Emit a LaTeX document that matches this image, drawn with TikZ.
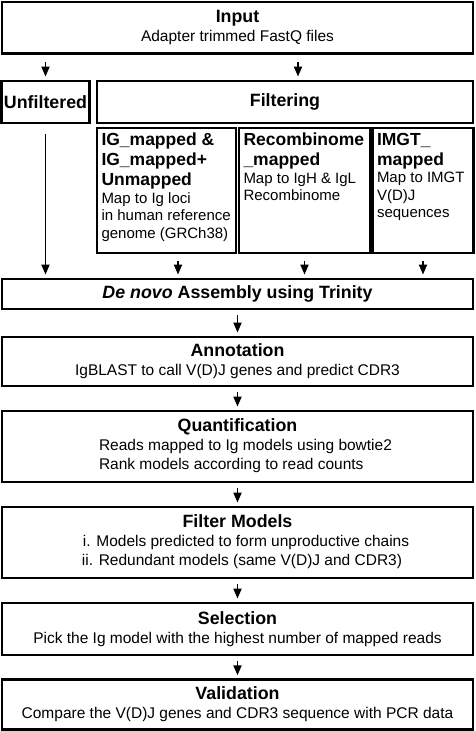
\documentclass[tikz,border=0pt]{standalone}
\usepackage{fontspec}
\setmainfont{Liberation Sans}
\usetikzlibrary{arrows.meta,positioning,calc}

\newcommand{\head}[1]{{\fontsize{17.8}{20}\selectfont\bfseries #1}}
\newcommand{\subhead}[1]{{\fontsize{17.5}{20}\selectfont\bfseries #1\par}}
\newcommand{\topfill}[2]{\parbox[c][115pt][t]{#1}{\raggedright #2}}

\begin{document}
\begin{tikzpicture}[x=1pt, y=-1pt,
    box/.style={rectangle, draw, line width=2.8pt, align=center, inner sep=1pt, minimum width=471pt, font=\fontsize{15.5}{19}\selectfont},
    step box/.style={rectangle, draw, line width=2.8pt, align=center, inner sep=0pt, minimum height=42pt, font=\fontsize{15}{19}\selectfont},
    subbox/.style={rectangle, draw, line width=2.8pt, inner xsep=4.5pt, inner ysep=5pt, minimum height=125pt, font=\fontsize{15}{17.5}\selectfont},
    arrow/.style={-{Triangle[length=10pt,width=8pt]}, line width=1.7pt, shorten >=3pt}
]
\useasboundingbox (0,0) rectangle (475,731);

% Input data
\node[box, minimum height=51.5pt] (input) at (237.5,27.8) {\head{Input}\\Adapter trimmed FastQ files};

% Two branches
\node[step box, minimum width=88pt] (unfilt) at (45.5,102) {\head{Unfiltered}};
\node[step box, minimum width=376pt] (filtering) at (285,102) {\head{Filtering}};

% Three filtering modes
\node[subbox, minimum width=139pt] (igmap) at (166.5,190.5) {\topfill{130pt}{%
    \subhead{IG\_mapped \&\\IG\_mapped+\\Unmapped}
    Map to Ig loci\\in human reference\\genome (GRCh38)}};
\node[subbox, minimum width=131pt] (recomb) at (304.5,190.5) {\topfill{122pt}{%
    \subhead{Recombinome\\\_mapped}
    Map to IgH \& IgL\\Recombinome}};
\node[subbox, minimum width=100pt] (imgt) at (423,190.5) {\topfill{92pt}{%
    \subhead{IMGT\_\\mapped}
    Map to IMGT\\V(D)J\\sequences}};

% Assembly and downstream steps
\node[box, minimum height=30pt] (denovo) at (237.5,294) {\head{\textit{De novo} Assembly using Trinity}};
\node[box, minimum height=49pt] (annot) at (237.5,361.5) {\head{Annotation}\\IgBLAST to call V(D)J genes and predict CDR3};
\node[box, minimum height=71pt] (quant) at (237.5,446.5) {\head{Quantification}\\
    \hspace*{16pt}\begin{tabular}[t]{@{}l@{}}Reads mapped to Ig models using bowtie2\\Rank models according to read counts\end{tabular}};
\node[box, minimum height=71pt] (filtmod) at (237.5,542.5) {\head{Filter Models}\\
    \hspace*{16pt}\begin{tabular}[t]{@{}l@{}}\hspace*{1pt}i. Models predicted to form unproductive chains\\ii. Redundant models (same V(D)J and CDR3)\end{tabular}};
\node[box, minimum height=52pt] (select) at (237.5,629) {\head{Selection}\\Pick the Ig model with the highest number of mapped reads};
\node[box, minimum height=49.5pt] (valid) at (237.5,704.5) {\head{Validation}\\Compare the V(D)J genes and CDR3 sequence with PCR data};

% Arrows from input to branches
\coordinate (fdrop) at ([xshift=13pt]filtering.north);
\draw[arrow, shorten <=7pt] (input.south -| unfilt) -- (unfilt);
\draw[arrow, shorten <=7pt] (input.south -| fdrop) -- (fdrop);

% Arrows into assembly
\coordinate (igdrop) at ([xshift=11.5pt]igmap.south);
\draw[arrow, shorten <=10pt] (unfilt) -- (unfilt |- denovo.north);
\draw[arrow, shorten <=7pt] (igdrop) -- (igdrop |- denovo.north);
\draw[arrow, shorten <=7pt] (recomb) -- (recomb |- denovo.north);
\draw[arrow, shorten <=7pt] (imgt) -- (imgt |- denovo.north);

% Main pipeline
\foreach \a/\b in {denovo/annot, annot/quant, quant/filtmod, filtmod/select, select/valid}
    \draw[arrow, shorten <=5pt] (\a) -- (\b);

\end{tikzpicture}
\end{document}
